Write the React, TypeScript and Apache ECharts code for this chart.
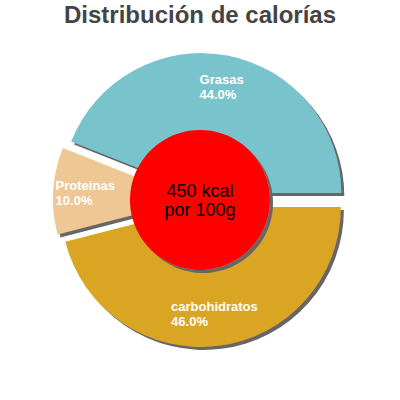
import React, { useEffect, useRef } from 'react'
import * as echarts from 'echarts'
import type { ECharts, EChartsOption } from 'echarts'

const titleText = 'Distribución de calorías'
const categories = ['Grasas', 'Proteinas', 'carbohidratos']
const percents = [44.0, 10.0, 46.0]
const colors = ['#79C4CC', '#EEC794', '#DAA520']
const centerLines = ['450 kcal', 'por 100g']

const FONT = '"Liberation Sans", Arial, sans-serif'

export default function App() {
  const chartRef = useRef<HTMLDivElement | null>(null)
  const chartInstance = useRef<ECharts | null>(null)

  useEffect(() => {
    const shadow = {
      shadowColor: '#666666',
      shadowBlur: 0,
      shadowOffsetX: 3,
      shadowOffsetY: 3,
    }

    const option: EChartsOption = {
      animation: false,
      title: {
        text: titleText,
        left: 'center',
        top: 2,
        padding: 0,
        textStyle: {
          fontFamily: FONT,
          fontSize: 24,
          fontWeight: 'bold',
          color: '#444444',
        },
      },
      series: [
        {
          // slices with shadow
          type: 'pie',
          center: ['50%', '50%'],
          radius: [0, 140],
          startAngle: 0,
          clockwise: false,
          selectedMode: 'multiple',
          selectedOffset: 7,
          silent: true,
          label: { show: false },
          labelLine: { show: false },
          emphasis: { disabled: true },
          select: { itemStyle: { borderWidth: 0 } },
          itemStyle: { ...shadow },
          data: categories.map((name, i) => ({
            name,
            value: percents[i],
            selected: true,
            itemStyle: { color: colors[i] },
          })),
        },
        {
          // labels only
          type: 'pie',
          center: ['50%', '50%'],
          radius: [70, 140],
          startAngle: 0,
          clockwise: false,
          selectedMode: 'multiple',
          selectedOffset: 7,
          silent: true,
          avoidLabelOverlap: false,
          emphasis: { disabled: true },
          itemStyle: { color: 'rgba(0,0,0,0)' },
          select: { itemStyle: { color: 'rgba(0,0,0,0)', borderWidth: 0 } },
          labelLine: { show: false },
          label: {
            show: true,
            position: 'inside',
            formatter: (p: any) =>
              `{a|${p.name}}\n{a|${percents[p.dataIndex].toFixed(1)}%}`,
            rich: {
              a: {
                align: 'left',
                color: '#ffffff',
                fontFamily: FONT,
                fontSize: 13,
                fontWeight: 'bold',
                lineHeight: 15,
              },
            },
          },
          data: categories.map((name, i) => ({
            name,
            value: percents[i],
            selected: true,
          })),
        },
        {
          // red centre circle
          type: 'pie',
          z: 3,
          center: ['50%', '50%'],
          radius: [0, 70],
          silent: true,
          emphasis: { disabled: true },
          labelLine: { show: false },
          itemStyle: { color: '#FF0000', ...shadow },
          label: {
            show: true,
            position: 'center',
            formatter: centerLines.join('\n'),
            color: '#000000',
            fontFamily: FONT,
            fontSize: 18,
            lineHeight: 19,
            padding: [0, 0, 3, 0],
          },
          data: [{ name: 'kcal', value: 1 }],
        },
      ],
    }

    if (chartRef.current) {
      chartInstance.current = echarts.init(chartRef.current, null, {
        renderer: 'svg',
      })
      chartInstance.current.setOption(option)
    }

    return () => {
      chartInstance.current?.dispose()
    }
  }, [])

  return (
    <div
      ref={chartRef}
      style={{
        position: 'fixed',
        left: 0,
        top: 0,
        width: '400px',
        height: '400px',
        background: '#ffffff',
      }}
    />
  )
}
